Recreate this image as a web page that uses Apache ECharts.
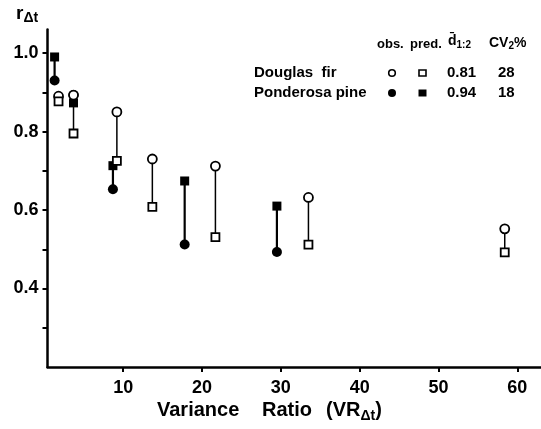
<!DOCTYPE html>
<html>
<head>
<meta charset="utf-8">
<script src="https://cdn.jsdelivr.net/npm/echarts@6/dist/echarts.min.js"></script>
<style>
  html, body { margin: 0; padding: 0; background: #fff; }
  #main { width: 541px; height: 429px; }
</style>
</head>
<body>
<div id="main"></div>
<script>
// Douglas fir: observed (open circle) vs predicted (open square)
var dfX = [1.8, 3.7, 9.2, 13.7, 21.7, 33.5, 58.4];
var dfObs = [0.89, 0.893, 0.85, 0.73, 0.712, 0.632, 0.552];
var dfPred = [0.877, 0.795, 0.725, 0.608, 0.531, 0.512, 0.492];

// Ponderosa pine: observed (filled circle) vs predicted (filled square)
var ppX = [1.3, 3.7, 8.7, 17.8, 29.5];
var ppObs = [0.93, 0.893, 0.653, 0.512, 0.493];
var ppPred = [0.99, 0.873, 0.713, 0.674, 0.61];

var xTicks = [10, 20, 30, 40, 50, 60];
var yTicks = [0.3, 0.4, 0.5, 0.6, 0.7, 0.8, 0.9, 1.0];
var yLabels = [0.4, 0.6, 0.8, 1.0];

var FONT = 'Liberation Sans';

var myChart = echarts.init(document.getElementById('main'));

function pairs(xs, a, b) {
    return xs.map(function (x, i) { return [x, a[i], b[i]]; });
}
function pts(xs, ys) {
    return xs.map(function (x, i) { return [x, ys[i]]; });
}
function stem(width) {
    return function (params, api) {
        var a = api.coord([api.value(0), api.value(1)]);
        var b = api.coord([api.value(0), api.value(2)]);
        return {
            type: 'line',
            shape: { x1: a[0], y1: a[1], x2: b[0], y2: b[1] },
            style: { stroke: '#000', lineWidth: width }
        };
    };
}
function txt(left, top, s, size) {
    return { type: 'text', left: left, top: top, style: { text: s, fontFamily: FONT, fontSize: size, fontWeight: 'bold', fill: '#000' } };
}

var openStyle = { color: '#fff', borderColor: '#000', borderWidth: 1.8, opacity: 1 };
var fillStyle = { color: '#000', opacity: 1 };

var option = {
    backgroundColor: '#fff',
    animation: false,
    grid: { left: 47.5, right: 0, top: 29.5, bottom: 62 },
    xAxis: {
        type: 'value', min: 0.4, max: 63,
        splitLine: { show: false },
        axisLine: { onZero: false, lineStyle: { color: '#000', width: 2.5 } },
        axisTick: { customValues: xTicks, length: 5, lineStyle: { color: '#000', width: 2 } },
        axisLabel: { customValues: xTicks, margin: 12, color: '#000', fontFamily: FONT, fontSize: 18, fontWeight: 'bold' }
    },
    yAxis: {
        type: 'value', min: 0.2, max: 1.06,
        splitLine: { show: false },
        axisLine: { onZero: false, lineStyle: { color: '#000', width: 2.5 } },
        axisTick: { customValues: yTicks, length: 5, lineStyle: { color: '#000', width: 2 } },
        axisLabel: {
            customValues: yLabels, margin: 9, color: '#000', fontFamily: FONT, fontSize: 18, fontWeight: 'bold',
            formatter: function (v) { return v.toFixed(1); }
        }
    },
    series: [
        { type: 'custom', renderItem: stem(1.5), data: pairs(dfX, dfObs, dfPred), z: 1 },
        { type: 'custom', renderItem: stem(2.2), data: pairs(ppX, ppObs, ppPred), z: 1 },
        { type: 'scatter', symbol: 'circle', symbolSize: 10, data: pts(ppX, ppObs), itemStyle: fillStyle, z: 2 },
        { type: 'scatter', symbol: 'rect', symbolSize: 9, data: pts(ppX, ppPred), itemStyle: fillStyle, z: 2 },
        { type: 'scatter', symbol: 'circle', symbolSize: 9, data: pts(dfX, dfObs), itemStyle: openStyle, z: 3 },
        { type: 'scatter', symbol: 'rect', symbolSize: 8, data: pts(dfX, dfPred), itemStyle: openStyle, z: 3 }
    ],
    graphic: [
        // y axis name
        { type: 'text', left: 16, top: 4, style: {
            text: '{r|r}{s|Δt}', rich: {
                r: { fontFamily: FONT, fontSize: 19, fontWeight: 'bold', fill: '#000' },
                s: { fontFamily: FONT, fontSize: 14, fontWeight: 'bold', fill: '#000', padding: [10, 0, 0, 0] }
            } } },
        // x axis name
        txt(157, 400, 'Variance', 20),
        txt(262, 400, 'Ratio', 20),
        { type: 'text', left: 326, top: 400, style: {
            text: '{t|(VR}{s|Δt}{t|)}', rich: {
                t: { fontFamily: FONT, fontSize: 20, fontWeight: 'bold', fill: '#000' },
                s: { fontFamily: FONT, fontSize: 14, fontWeight: 'bold', fill: '#000', padding: [12, 0, 0, 0] }
            } } },
        // legend header
        txt(377, 38, 'obs.', 13),
        txt(410, 38, 'pred.', 13),
        { type: 'text', left: 448, top: 34, style: {
            text: '{t|d\u0304}{s|1:2}', rich: {
                t: { fontFamily: FONT, fontSize: 14, fontWeight: 'bold', fill: '#000' },
                s: { fontFamily: FONT, fontSize: 10, fontWeight: 'bold', fill: '#000', padding: [8, 0, 0, 0] }
            } } },
        { type: 'text', left: 489, top: 36, style: {
            text: '{t|CV}{s|2}{t|%}', rich: {
                t: { fontFamily: FONT, fontSize: 14, fontWeight: 'bold', fill: '#000' },
                s: { fontFamily: FONT, fontSize: 10, fontWeight: 'bold', fill: '#000', padding: [7, 0, 0, 0] }
            } } },
        txt(254, 65, 'Douglas  fir', 15),
        txt(254, 85, 'Ponderosa pine', 15),
        { type: 'circle', shape: { cx: 392, cy: 73, r: 3.3 }, style: { fill: '#fff', stroke: '#000', lineWidth: 1.6 } },
        { type: 'rect', shape: { x: 419, y: 70, width: 7, height: 6 }, style: { fill: '#fff', stroke: '#000', lineWidth: 1.6 } },
        { type: 'circle', shape: { cx: 392, cy: 93, r: 4 }, style: { fill: '#000' } },
        { type: 'rect', shape: { x: 418.5, y: 89.5, width: 8, height: 7 }, style: { fill: '#000' } },
        txt(447, 65, '0.81', 15),
        txt(447, 85, '0.94', 15),
        txt(498, 65, '28', 15),
        txt(498, 85, '18', 15)
    ]
};

myChart.setOption(option);
</script>
</body>
</html>
